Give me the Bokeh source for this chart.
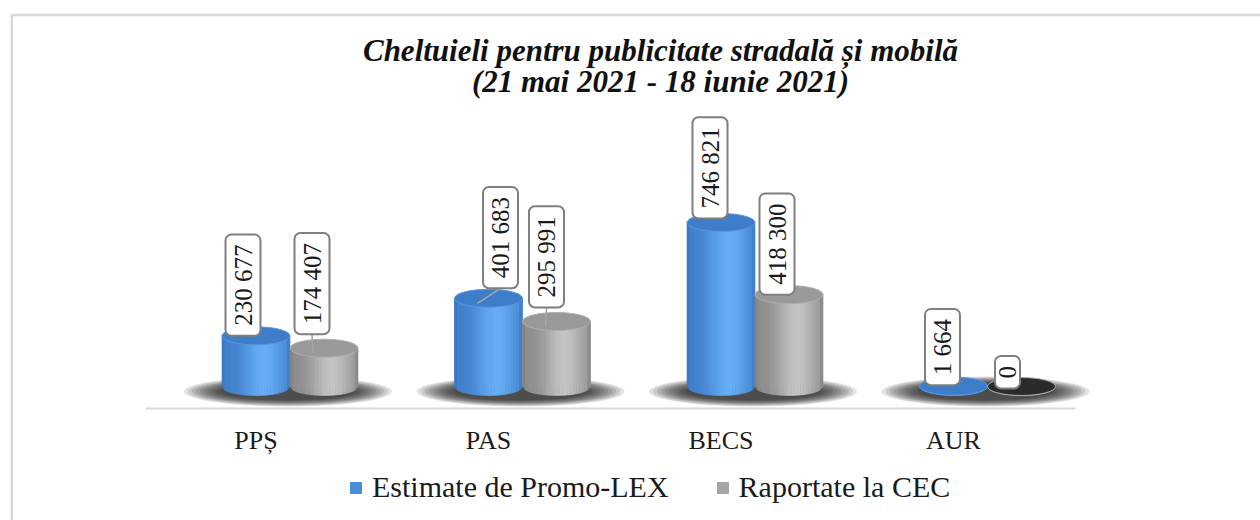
import math
from bokeh.plotting import figure
from bokeh.models import (Range1d, FixedTicker, Legend, LegendItem, BoxAnnotation,
                          Label, ColumnDataSource)
from bokeh.core.properties import value
from bokeh.embed import file_html
from bokeh.resources import INLINE

# ---------------- data ----------------
categories = ["PPȘ", "PAS", "BECS", "AUR"]
estimate_promolex = [230677, 401683, 746821, 1664]
reported_cec = [174407, 295991, 418300, 0]
series_names = ["Estimate de Promo-LEX", "Raportate la CEC"]
title_lines = ["Cheltuieli pentru publicitate stradală și mobilă",
               "(21 mai 2021 - 18 iunie 2021)"]

# ---------------- layout constants ----------------
W, H = 1260, 520
PX_PER_X = 232.5                 # pixels per category step
X0_PX = 255.5                    # canvas px of first category
PX_PER_Y = 164 / 746821          # pixels per unit of value
Y0_PX = 386                      # canvas px (from top) of value 0
AXIS_PX = 408                    # canvas px of the category axis line
BAR_W = 68 / PX_PER_X
RY_PX = 9                        # half-height of cylinder ellipses

x_start = -X0_PX / PX_PER_X
x_end = (W - X0_PX) / PX_PER_X
y_end = Y0_PX / PX_PER_Y
y_start = -(H - Y0_PX) / PX_PER_Y


def px_x(px):
    return (px - X0_PX) / PX_PER_X


def px_y(py):
    return (Y0_PX - py) / PX_PER_Y


SERIF = "Liberation Serif"

# label placement (screen px): box centre offset and lift above bar top
BLUE_DX = [-13, 12, -11, -11]
BLUE_LIFT = [0, 10, 4, 1]
GRAY_DX = [-12, -10, -12, -14]
GRAY_LIFT = [14, 14, 0, -2]
PAD_END = 10

p = figure(frame_width=W, frame_height=H, output_backend="svg",
           toolbar_location=None,
           x_range=Range1d(x_start, x_end), y_range=Range1d(y_start, y_end),
           y_axis_location=None, min_border_left=0, min_border_right=0,
           min_border_top=0, min_border_bottom=0)
p.outline_line_color = None
p.xgrid.visible = False
p.ygrid.visible = False
p.background_fill_color = "white"
p.border_fill_color = "white"

# chart frame (only top/left visible)
p.add_layout(BoxAnnotation(left=11.3, right=4000, top=14.5, bottom=4000,
                           left_units="canvas", right_units="canvas",
                           top_units="canvas", bottom_units="canvas",
                           fill_alpha=0, line_color="#7f7f7f", line_width=2.5))

# title
for line, base_px in zip(title_lines, [50, 81]):
    p.add_layout(Label(x=px_x(660), y=px_y(base_px), text=line,
                       text_font=SERIF, text_font_style="bold italic",
                       text_font_size="31px", text_align="center",
                       text_baseline="alphabetic", text_color="#111111"))

idx = list(range(len(categories)))
blue_x = [i for i in idx]
gray_x = [i + BAR_W for i in idx]

# soft shadows under each pair
for j in range(10):
    p.ellipse(x=[i + BAR_W / 2 - 2 / PX_PER_X for i in idx], y=[px_y(Y0_PX + 5)] * len(idx),
              width=208 - j * 8, height=30 - j * 1.4, width_units="screen",
              height_units="screen", fill_color="black", fill_alpha=0.11,
              line_color=None)


def mix(c1, c2, s):
    a = [int(c1[k:k + 2], 16) for k in (1, 3, 5)]
    b = [int(c2[k:k + 2], 16) for k in (1, 3, 5)]
    return "#%02x%02x%02x" % tuple(int(round(a[m] + (b[m] - a[m]) * s)) for m in range(3))


def cylinders(xcs, tops, dark, light):
    xs, ys, cols = [], [], []
    n = 24
    ry = RY_PX / PX_PER_Y
    for xc, top in zip(xcs, tops):
        for k in range(n):
            u0 = -0.5 + k / n
            u1 = u0 + 1 / n
            t = (u0 + u1) / 2 + 0.5
            s = 0.34 + 0.66 * math.exp(-((t - 0.62) / 0.30) ** 2)
            if t < 0.06 or t > 0.95:
                s *= 0.7
            yb0 = -ry * math.sqrt(max(0.0, 1 - (2 * u0) ** 2))
            yb1 = -ry * math.sqrt(max(0.0, 1 - (2 * u1) ** 2))
            xs.append([xc + u0 * BAR_W, xc + u1 * BAR_W, xc + u1 * BAR_W, xc + u0 * BAR_W])
            ys.append([top, top, yb1, yb0])
            cols.append(mix(dark, light, s))
    return xs, ys, cols


series = [
    (blue_x, estimate_promolex, "#2d68b4", "#66aef5", "#4a8fdc", "#3d7dca", "#5a97dc"),
    (gray_x, reported_cec, "#6e6e6e", "#c4c4c4", "#a5a5a5", "#999999", "#adadad"),
]
proxies = []
for xcs, vals, dark, light, base, topc, rim in series:
    r = p.vbar(x=xcs, top=vals, bottom=0, width=BAR_W, fill_color=base, line_color=None)
    proxies.append(r)
    xs, ys, cols = cylinders(xcs, vals, dark, light)
    p.patches(xs=xs, ys=ys, fill_color=cols, line_color=cols, line_width=0.6)
    tops = [topc if v > 0 else "#2b2b2b" for v in vals]
    p.ellipse(x=xcs, y=vals, width=BAR_W, height=2 * RY_PX, height_units="screen",
              fill_color=tops, line_color=rim, line_width=1)

# leader lines
lx0, ly0, lx1, ly1 = [], [], [], []
for xcs, vals, dxs, lifts in [(blue_x, estimate_promolex, BLUE_DX, BLUE_LIFT),
                              (gray_x, reported_cec, GRAY_DX, GRAY_LIFT)]:
    for xc, v, dx, lift in zip(xcs, vals, dxs, lifts):
        if lift > 6:
            lx0.append(xc + dx / PX_PER_X)
            ly0.append(v + lift / PX_PER_Y)
            lx1.append(xc - 11 / PX_PER_X)
            ly1.append(v - 5 / PX_PER_Y)
p.segment(x0=lx0, y0=ly0, x1=lx1, y1=ly1, line_color="#a6a6a6", line_width=1.5)

# value labels (anchor = bottom edge of the rounded box)
fmt = lambda v: f"{v:,}".replace(",", " ")
src = ColumnDataSource(dict(
    x=blue_x + gray_x,
    y=estimate_promolex + reported_cec,
    text=[fmt(v) for v in estimate_promolex + reported_cec],
    dx=BLUE_DX + GRAY_DX,
    dy=[-l for l in BLUE_LIFT + GRAY_LIFT],
))
p.text(x="x", y="y", text="text", source=src, angle=math.pi / 2,
       x_offset="dx", y_offset="dy", text_align="left", text_baseline="middle",
       text_font=value(SERIF), text_font_size="25px", text_color="#1a1a1a",
       background_fill_color="white", border_line_color="#7f7f7f",
       border_line_width=2, border_radius=6,
       padding=dict(left=PAD_END, right=PAD_END, top=4, bottom=4))

# x axis, fixed inside the frame
ax = p.xaxis[0]
ax.fixed_location = px_y(AXIS_PX)
ax.ticker = FixedTicker(ticks=idx)
ax.major_label_overrides = {i: c for i, c in zip(idx, categories)}
ax.bounds = (px_x(145), px_x(1075))
ax.axis_line_color = "#d9d9d9"
ax.axis_line_width = 2
ax.major_tick_line_color = None
ax.minor_tick_line_color = None
ax.major_tick_out = 0
ax.major_tick_in = 0
ax.major_label_standoff = 17
ax.major_label_text_font = SERIF
ax.major_label_text_font_size = "26px"
ax.major_label_text_color = "#1a1a1a"

legend = Legend(items=[LegendItem(label=series_names[0], renderers=[proxies[0]]),
                       LegendItem(label=series_names[1], renderers=[proxies[1]])],
                orientation="horizontal", location=(348, 16),
                glyph_width=15, glyph_height=15, label_standoff=9, spacing=46,
                padding=0, margin=0, border_line_color=None,
                background_fill_alpha=0, label_text_font=SERIF,
                label_text_font_size="30px", label_text_color="#1a1a1a")
p.add_layout(legend, "center")

open("out.html", "w").write(file_html(p, INLINE))
